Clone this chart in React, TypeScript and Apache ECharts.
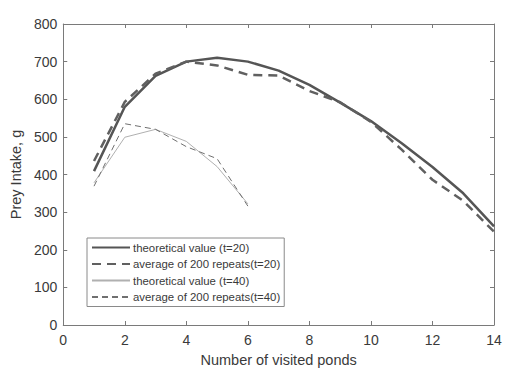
import React, { useEffect, useRef } from "react";
import * as echarts from "echarts";

const ponds = [1, 2, 3, 4, 5, 6, 7, 8, 9, 10, 11, 12, 13, 14];
const theo20 = [409, 580, 662, 700, 710, 700, 676, 638, 591, 542, 483, 420, 350, 262];
const avg20 = [436, 593, 668, 700, 690, 665, 663, 622, 592, 540, 466, 386, 330, 248];
const ponds40 = [1, 2, 3, 4, 5, 6];
const theo40 = [378, 499, 520, 488, 421, 322];
const avg40 = [369, 535, 520, 474, 442, 316];

const names = [
  "theoretical value (t=20)",
  "average of 200 repeats(t=20)",
  "theoretical value (t=40)",
  "average of 200 repeats(t=40)",
];

const pair = (xs: number[], ys: number[]) => xs.map((x, i) => [x, ys[i]]);

export default function App() {
  const ref = useRef<HTMLDivElement>(null);
  useEffect(() => {
    const chart = echarts.init(ref.current!, null, { renderer: "svg" });
    const axisLine = { show: true, onZero: false, lineStyle: { color: "#7a7a7a", width: 1 } };
    const tick = { show: true, inside: true, length: 4, lineStyle: { color: "#7a7a7a" } };
    const font = "Liberation Sans, Arial, sans-serif";
    chart.setOption({
      animation: false,
      backgroundColor: "#ffffff",
      textStyle: { fontFamily: font },
      grid: { left: 62, right: 35, top: 24, bottom: 56, containLabel: false },
      legend: {
        show: true,
        orient: "vertical",
        left: 87,
        top: 238,
        itemWidth: 38,
        itemHeight: 10,
        itemGap: 5.5,
        padding: [4, 4, 4, 4],
        borderColor: "#8a8a8a",
        borderWidth: 1,
        backgroundColor: "#ffffff",
        itemStyle: { opacity: 0 },
        textStyle: { fontSize: 11.4, color: "#3a3a3a", fontFamily: font, padding: [0, 0, 0, -2] },
        data: names,
      },
      xAxis: [
        {
          type: "value",
          min: 0,
          max: 14,
          interval: 2,
          axisLine,
          axisTick: tick,
          axisLabel: { color: "#3a3a3a", fontSize: 14, margin: 8 },
          splitLine: { show: false },
          name: "Number of visited ponds",
          nameLocation: "middle",
          nameGap: 27,
          nameTextStyle: { color: "#3a3a3a", fontSize: 14.5 },
        },
        {
          type: "value",
          position: "top",
          min: 0,
          max: 14,
          interval: 2,
          axisLine,
          axisTick: tick,
          axisLabel: { show: false },
          splitLine: { show: false },
        },
      ],
      yAxis: [
        {
          type: "value",
          min: 0,
          max: 800,
          interval: 100,
          axisLine,
          axisTick: tick,
          axisLabel: { color: "#3a3a3a", fontSize: 14, margin: 6 },
          splitLine: { show: false },
          name: "Prey Intake, g",
          nameLocation: "middle",
          nameGap: 32,
          nameTextStyle: { color: "#3a3a3a", fontSize: 14.5 },
        },
        {
          type: "value",
          position: "right",
          min: 0,
          max: 800,
          interval: 100,
          axisLine,
          axisTick: tick,
          axisLabel: { show: false },
          splitLine: { show: false },
        },
      ],
      series: [
        {
          name: names[0],
          type: "line",
          data: pair(ponds, theo20),
          showSymbol: false,
          symbol: "none",
          lineStyle: { color: "#555555", width: 2.5 },
          itemStyle: { color: "#555555" },
        },
        {
          name: names[1],
          type: "line",
          data: pair(ponds, avg20),
          showSymbol: false,
          symbol: "none",
          lineStyle: { color: "#606060", width: 2.5, type: [9, 6] },
          itemStyle: { color: "#606060" },
        },
        {
          name: names[2],
          type: "line",
          data: pair(ponds40, theo40),
          showSymbol: false,
          symbol: "none",
          lineStyle: { color: "#b0b0b0", width: 1 },
          itemStyle: { color: "#b0b0b0" },
        },
        {
          name: names[3],
          type: "line",
          data: pair(ponds40, avg40),
          showSymbol: false,
          symbol: "none",
          lineStyle: { color: "#707070", width: 1, type: [6, 4] },
          itemStyle: { color: "#707070" },
        },
      ],
    });
    return () => chart.dispose();
  }, []);
  return <div ref={ref} style={{ width: 529, height: 381, position: "absolute", left: 0, top: 0 }} />;
}
